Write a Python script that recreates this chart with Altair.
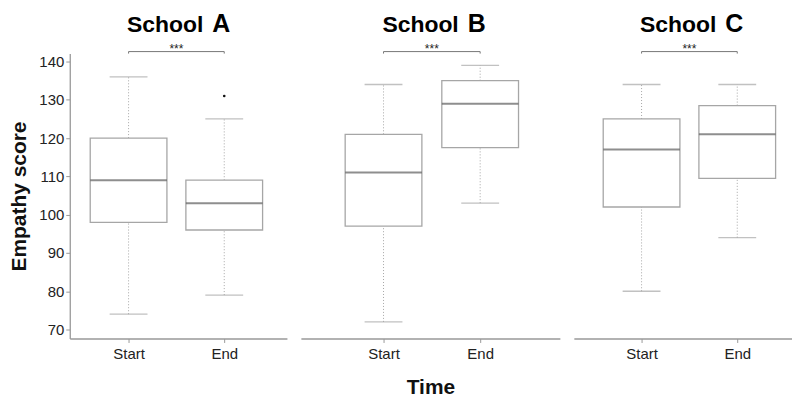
import altair as alt
import pandas as pd

schools = ["A", "A", "B", "B", "C", "C"]
times = ["Start", "End", "Start", "End", "Start", "End"]
mins = [74, 79, 72, 103, 80, 94]
q1s = [98, 96, 97, 117.5, 102, 109.5]
medians = [109, 103, 111, 129, 117, 121]
q3s = [120, 109, 121, 135, 125, 128.5]
maxs = [136, 125, 134, 139, 134, 134]

out_school = ["A"]
out_time = ["End"]
out_value = [131]

bracket_school = ["A", "B", "C"]
bracket_label = ["***", "***", "***"]

y_ticks = [70, 80, 90, 100, 110, 120, 130, 140]
y_domain = [67.66, 142.08]

stats = pd.DataFrame({"school": schools, "time": times, "min": mins, "q1": q1s,
                      "median": medians, "q3": q3s, "max": maxs})
outs = pd.DataFrame({"school": out_school, "time": out_time, "value": out_value})

FONT = "Liberation Sans"
BOX = "#a6a6a6"


def panel(school, width, pad, align, step, show_y, xtitle):
    d = stats[stats.school == school]
    o = outs[outs.school == school]
    br = pd.DataFrame({"a": ["Start"], "b": ["End"], "y": [142.6], "y2": [142.08],
                       "label": [bracket_label[bracket_school.index(school)]], "ty": [143.3],
                       "word": ["School"], "letter": [school], "tty": [147.7]})
    half = step / 2
    xscale = alt.Scale(type="point", domain=["Start", "End"], padding=pad, align=align)
    yscale = alt.Scale(domain=y_domain, nice=False, zero=False)
    if show_y:
        yaxis = alt.Axis(title="Empathy score", values=y_ticks, titleFontSize=21,
                         titleFontWeight="bold", titleFont=FONT, titlePadding=9,
                         titleColor="#111")
    else:
        yaxis = None
    xaxis = alt.Axis(title=xtitle if xtitle else None, labelAngle=0, labelPadding=4,
                     titleFontSize=21, titleFontWeight="bold", titleFont=FONT,
                     titlePadding=15, titleColor="#111")
    x = alt.X("time:N", scale=xscale, axis=xaxis, sort=["Start", "End"])
    base = alt.Chart(d)
    whisk_hi = base.mark_rule(color=BOX, strokeDash=[1, 2], strokeWidth=1).encode(
        x=x, y=alt.Y("q3:Q", scale=yscale, axis=yaxis), y2="max:Q")
    whisk_lo = base.mark_rule(color=BOX, strokeDash=[1, 2], strokeWidth=1).encode(
        x=x, y=alt.Y("min:Q"), y2="q1:Q")
    box = base.mark_bar(size=77, fill="white", stroke=BOX, strokeWidth=1.3).encode(
        x=x, y=alt.Y("q1:Q"), y2="q3:Q")
    med = base.mark_tick(size=77, thickness=2, color="#5e5e5e").encode(
        x=x, y=alt.Y("median:Q"))
    cap_hi = base.mark_tick(size=38, thickness=1.3, color=BOX).encode(x=x, y=alt.Y("max:Q"))
    cap_lo = base.mark_tick(size=38, thickness=1.3, color=BOX).encode(x=x, y=alt.Y("min:Q"))
    layers = [whisk_hi, whisk_lo, box, med, cap_hi, cap_lo]
    if len(o):
        pts = alt.Chart(o).mark_point(filled=True, size=7, color="#111", opacity=1).encode(
            x=x, y=alt.Y("value:Q"))
        layers.append(pts)
    bc = alt.Chart(br)
    xa = alt.X("a:N", scale=xscale, axis=xaxis)
    hline = bc.mark_rule(color="#777", strokeWidth=1).encode(x=xa, x2="b:N", y=alt.Y("y:Q"))
    lend = bc.mark_rule(color="#777", strokeWidth=1).encode(x=xa, y=alt.Y("y:Q"), y2="y2:Q")
    rend = bc.mark_rule(color="#777", strokeWidth=1).encode(
        x=alt.X("b:N", scale=xscale, axis=xaxis), y=alt.Y("y:Q"), y2="y2:Q")
    txt = bc.mark_text(font=FONT, fontSize=12, color="#222", dx=half, baseline="middle").encode(
        x=xa, y=alt.Y("ty:Q"), text="label:N")
    word = bc.mark_text(font=FONT, fontSize=23, fontWeight="bold", color="#000",
                        align="right", baseline="alphabetic", dx=half + 27).encode(
        x=xa, y=alt.Y("tty:Q"), text="word:N")
    letter = bc.mark_text(font=FONT, fontSize=25, fontWeight="bold", color="#000",
                          align="left", baseline="alphabetic", dx=half + 36).encode(
        x=xa, y=alt.Y("tty:Q"), text="letter:N")
    layers += [hline, lend, rend, txt, word, letter]
    return alt.layer(*layers).properties(width=width, height=286)


chart = alt.hconcat(
    panel("A", 218, 0.635, 0.484, 96, True, None),
    panel("B", 260, 0.84, 0.509, 97, False, "Time"),
    panel("C", 219, 0.64, 0.553, 96, False, None),
    spacing=14,
).properties(padding={"left": 0, "top": 3, "right": 0, "bottom": 0}).configure_view(
    stroke=None).configure_axis(
    grid=False, domainColor="#999999", tickColor="#999999", labelColor="#222222",
    labelFont=FONT, labelFontSize=15, tickSize=4, domainWidth=1.3)

chart.save("out.html", embed_options={"renderer": "svg", "actions": False})
